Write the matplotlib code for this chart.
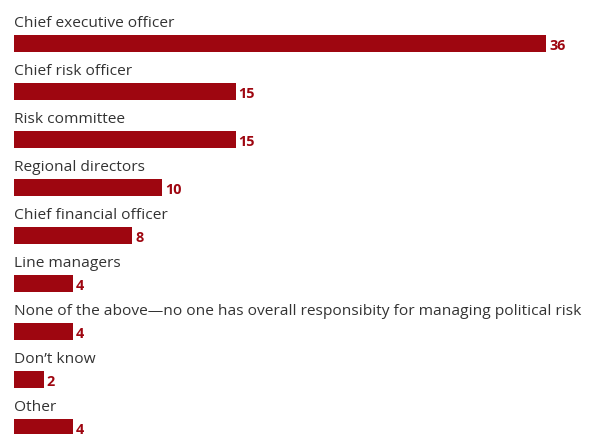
import matplotlib
matplotlib.use("Agg")
import matplotlib.pyplot as plt

categories = [
    "Chief executive officer",
    "Chief risk officer",
    "Risk committee",
    "Regional directors",
    "Chief financial officer",
    "Line managers",
    "None of the above\u2014no one has overall responsibity for managing political risk",
    "Don\u2019t know",
    "Other",
]
values = [36, 15, 15, 10, 8, 4, 4, 2, 4]

BAR_COLOR = "#9e0610"
TEXT_COLOR = "#333333"

W, H, DPI = 598, 435, 100
fig = plt.figure(figsize=(W / DPI, H / DPI), dpi=DPI)
ax = fig.add_axes([0, 0, 1, 1])

px_per_unit = 14.78
left_px = 14
row_px = 48
first_center_px = 44.5

ax.set_xlim(-left_px / px_per_unit, (W - left_px) / px_per_unit)
ax.set_ylim((H - first_center_px) / row_px, -first_center_px / row_px)
ax.axis("off")

ys = list(range(len(categories)))
ax.barh(ys, values, height=17 / row_px, left=0, color=BAR_COLOR, edgecolor="none")

for y, cat, v in zip(ys, categories, values):
    ax.text(0, y - 17.5 / row_px, cat, ha="left", va="baseline",
            fontsize=11.15, color=TEXT_COLOR, family="Open Sans")
    ax.text(v + 3 / px_per_unit, y + 1 / row_px, str(v), ha="left", va="center",
            fontsize=10.4, fontweight="bold", color=BAR_COLOR, family="Open Sans")

fig.savefig("out.png", dpi=DPI)
